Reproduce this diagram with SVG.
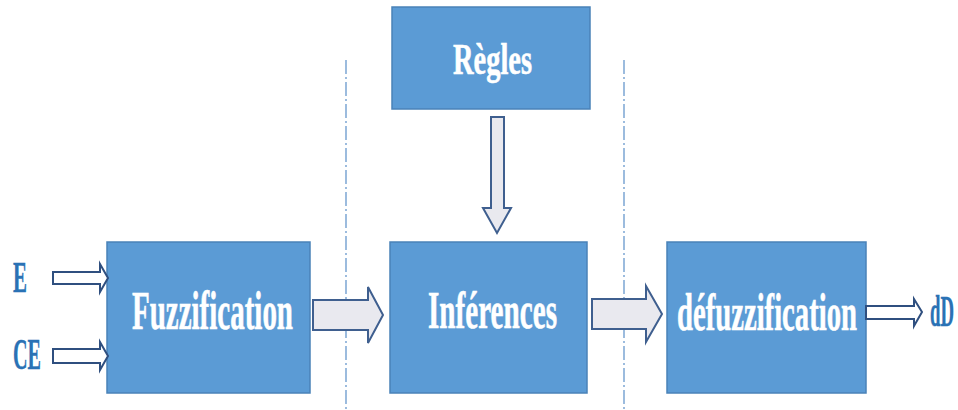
<svg xmlns="http://www.w3.org/2000/svg" width="958" height="410" viewBox="0 0 958 410">
  <style>
    .box { fill: #5b9bd5; stroke: #4a82b8; stroke-width: 1.5; }
    .lbl { font-family: "Liberation Serif", "DejaVu Serif", serif; font-weight: bold; fill: #ffffff; stroke: #ffffff; stroke-width: 0.6; }
    .io { font-family: "Liberation Serif", "DejaVu Serif", serif; font-weight: bold; fill: #2a72b5; stroke: #2a72b5; stroke-width: 0.4; }
    .big { fill: #e9e9ef; stroke: #3f5f8f; stroke-width: 2; stroke-linejoin: miter; }
    .thin { fill: #ffffff; stroke: #2f4f7f; stroke-width: 2; stroke-linejoin: miter; }
    .sep { stroke: #5b8fc8; stroke-width: 1.2; stroke-dasharray: 14 3 2 3; fill: none; }
  </style>
  <rect width="958" height="410" fill="#ffffff"/>

  <!-- stage separators -->
  <g id="separators">
    <line class="sep" x1="346" y1="60" x2="346" y2="410"/>
    <line class="sep" x1="624" y1="60" x2="624" y2="410"/>
  </g>

  <g id="regles">
    <rect class="box" x="392" y="7" width="198" height="102"/>
    <text class="lbl" x="453" y="74" font-size="45" textLength="79" lengthAdjust="spacingAndGlyphs">Règles</text>
  </g>

  <g id="fuzzification">
    <rect class="box" x="107" y="242" width="203" height="151"/>
    <text class="lbl" x="132" y="329" font-size="54" textLength="161" lengthAdjust="spacingAndGlyphs">Fuzzification</text>
  </g>

  <g id="inferences">
    <rect class="box" x="390" y="242" width="197" height="151"/>
    <text class="lbl" x="428" y="328" font-size="52" textLength="129" lengthAdjust="spacingAndGlyphs">Inférences</text>
  </g>

  <g id="defuzzification">
    <rect class="box" x="667" y="242" width="199" height="151"/>
    <text class="lbl" x="677" y="330" font-size="53" textLength="180" lengthAdjust="spacingAndGlyphs">défuzzification</text>
  </g>

  <g id="input-E">
    <text class="io" x="13" y="292" font-size="45" textLength="14" lengthAdjust="spacingAndGlyphs">E</text>
  </g>
  <g id="input-CE">
    <text class="io" x="13" y="369" font-size="44" textLength="28" lengthAdjust="spacingAndGlyphs">CE</text>
  </g>
  <g id="output-dD">
    <text class="io" x="930" y="326" font-size="44" textLength="24" lengthAdjust="spacingAndGlyphs">dD</text>
  </g>

  <g id="connectors">
    <!-- E -> Fuzzification -->
    <path class="thin" d="M53,272 H100 V264 L108,278 L100,292 V284 H53 Z"/>
    <!-- CE -> Fuzzification -->
    <path class="thin" d="M53,349 H100 V342 L108,356 L100,370 V363 H53 Z"/>
    <!-- Règles -> Inférences -->
    <path class="big" d="M491,117 H504 V208 H511 L497,233 L483,208 H491 Z"/>
    <!-- Fuzzification -> Inférences -->
    <path class="big" d="M313,300 H368 V287 L383,315 L368,343 V330 H313 Z"/>
    <!-- Inférences -> défuzzification -->
    <path class="big" d="M592,299 H646 V286 L662,314 L646,342 V329 H592 Z"/>
    <!-- défuzzification -> dD -->
    <path class="thin" d="M866,306 H914 V299 L922,312 L914,326 V319 H866 Z"/>
  </g>
</svg>
